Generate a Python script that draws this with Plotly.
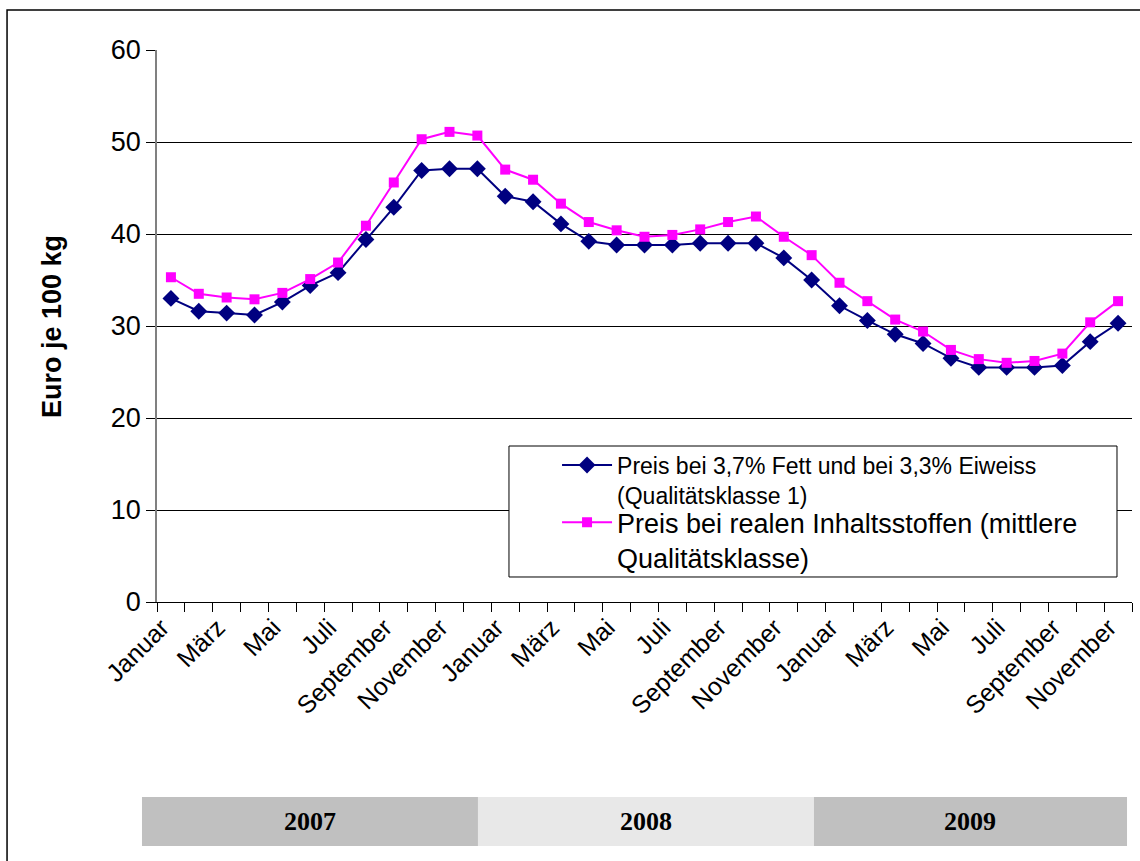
import plotly.graph_objects as go

# Monatsbezeichnungen Januar 2007 bis November 2009
month_names = ["Januar", "Februar", "März", "April", "Mai", "Juni", "Juli",
               "August", "September", "Oktober", "November", "Dezember"]
months = month_names + month_names + month_names[:11]

# Milchpreis in Euro je 100 kg
preis_klasse1 = [33.0, 31.6, 31.4, 31.2, 32.6, 34.4, 35.8, 39.4, 42.9, 46.9, 47.1, 47.1,
                 44.1, 43.5, 41.1, 39.2, 38.8, 38.8, 38.8, 39.0, 39.0, 39.0, 37.4, 35.0,
                 32.2, 30.6, 29.1, 28.1, 26.5, 25.5, 25.5, 25.5, 25.7, 28.3, 30.3]
preis_real = [35.3, 33.5, 33.1, 32.9, 33.6, 35.1, 36.9, 40.9, 45.6, 50.3, 51.1, 50.7,
              47.0, 45.9, 43.3, 41.3, 40.4, 39.7, 39.9, 40.5, 41.3, 41.9, 39.7, 37.7,
              34.7, 32.7, 30.7, 29.4, 27.4, 26.4, 26.0, 26.2, 27.0, 30.4, 32.7]

years = ["2007", "2008", "2009"]
# Jahresbalken unter der Achse (Papierkoordinaten)
year_spans = [(-0.0154, 0.3292), (0.3292, 0.6738), (0.6738, 0.9949)]
year_colors = ["#C0C0C0", "#E8E8E8", "#C0C0C0"]

name1 = "Preis bei 3,7% Fett und bei 3,3% Eiweiss<br>(Qualitätsklasse 1)"
name2 = "Preis bei realen Inhaltsstoffen (mittlere<br>Qualitätsklasse)"

x = list(range(len(months)))
FONT = "Liberation Sans, Arial, sans-serif"

fig = go.Figure()
fig.add_trace(go.Scatter(
    x=x, y=preis_klasse1, mode="lines+markers", name=name1, legend="legend",
    line=dict(color="#000080", width=2),
    marker=dict(symbol="diamond", size=13, color="#000080"),
))
fig.add_trace(go.Scatter(
    x=x, y=preis_real, mode="lines+markers", name=name2, legend="legend2",
    line=dict(color="#FF00FF", width=2),
    marker=dict(symbol="square", size=10, color="#FF00FF"),
))

shapes = []
# Rahmen der Legende
shapes.append(dict(type="rect", xref="paper", yref="paper",
                   x0=0.3610, x1=0.9846, y0=0.0453, y1=0.2826,
                   fillcolor="white", line=dict(color="black", width=1), layer="above"))
# äußerer Rahmen
shapes.append(dict(type="rect", xref="paper", yref="paper",
                   x0=-0.1538, x1=1.2, y0=-0.7, y1=1.0725,
                   fillcolor="rgba(0,0,0,0)", line=dict(color="black", width=1.5), layer="above"))

annotations = []
for yr, (a, b), col in zip(years, year_spans, year_colors):
    shapes.append(dict(type="rect", xref="paper", yref="paper", x0=a, x1=b,
                       y0=-0.442, y1=-0.3533, fillcolor=col,
                       line=dict(width=0), layer="above"))
    annotations.append(dict(xref="paper", yref="paper", x=(a + b) / 2, y=-0.3976,
                            xanchor="center", yanchor="middle",
                            text="<b>" + yr + "</b>", showarrow=False,
                            font=dict(family="Liberation Serif, Times New Roman, serif",
                                      size=26, color="black")))

annotations.append(dict(xref="paper", yref="paper", x=-0.1077, y=0.5,
                        xanchor="center", yanchor="middle",
                        text="<b>Euro je 100 kg</b>", textangle=-90, showarrow=False,
                        font=dict(family=FONT, size=27, color="black")))

legend_common = dict(xanchor="left", yanchor="top", bgcolor="rgba(0,0,0,0)",
                     borderwidth=0, itemwidth=50, tracegroupgap=0, valign="top")

fig.update_layout(
    width=1140, height=861,
    margin=dict(l=157, r=8, t=50, b=259),
    paper_bgcolor="white", plot_bgcolor="white",
    font=dict(family=FONT, color="black", size=24),
    showlegend=True,
    legend=dict(x=0.4103, y=0.2870, font=dict(family=FONT, size=23, color="black"),
                **legend_common),
    legend2=dict(x=0.4103, y=0.1880, font=dict(family=FONT, size=27, color="black"),
                 **legend_common),
    shapes=shapes, annotations=annotations,
)

fig.update_xaxes(
    range=[-0.5, 34.5], tickmode="array",
    tickvals=x[::2], ticktext=months[::2], tickangle=-45,
    ticks="", ticklabelstandoff=0, ticklabelshift=-9,
    tickfont=dict(family=FONT, size=25, color="black"),
    showline=True, linecolor="black", linewidth=1,
    showgrid=False, zeroline=False,
    minor=dict(tickmode="array", tickvals=[i - 0.5 for i in range(len(months) + 1)],
               ticks="outside", ticklen=9, tickcolor="black", tickwidth=1, showgrid=False),
)
fig.update_yaxes(
    range=[0, 60], tickmode="linear", tick0=0, dtick=10,
    ticks="outside", ticklen=9, tickcolor="black", tickwidth=1,
    tickfont=dict(family=FONT, size=27, color="black"),
    showline=True, linecolor="#808080", linewidth=1.5,
    showgrid=True, gridcolor="black", gridwidth=1, zeroline=False,
)

fig.write_html("out.html")
